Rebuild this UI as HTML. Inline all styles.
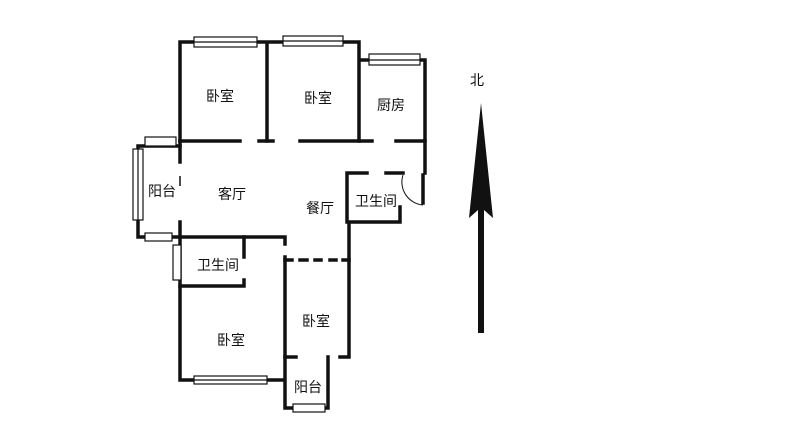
<!DOCTYPE html>
<html><head><meta charset="utf-8"><style>
body{margin:0;background:#fff}
svg text{font-family:"Liberation Sans","Noto Sans CJK SC",sans-serif;font-size:14px;fill:#111}
</style></head><body>
<svg width="811" height="434" viewBox="0 0 811 434" xmlns="http://www.w3.org/2000/svg">
<g stroke="#111" stroke-width="3.5" fill="none" stroke-linecap="square">
<!-- top -->
<path d="M180 42H359M359 60H425V173M180 42V141M267 42V141M359 42V141"/>
<path d="M180 141H240M259 141H273M300 141H372M396 141H425"/>
<path d="M180 141V162M180 222V380H285M285 257V408H328V357M180 237H285V244"/>
<path d="M244 237V257M244 280V286H180"/>
<path d="M285 357H296M340 357H349M349 222V357M347 173V222H400V207M347 173H367M386 173H403"/>
<path d="M423 175V203"/>
<path d="M285 260H292M300 260H307M315 260H321M330 260H336M343 260H349"/>
<path d="M138 146H180M138 146V237H180"/>
</g>
<path d="M180 176V186" stroke="#111" stroke-width="1.5"/>
<path d="M403 175A23 23 0 0 0 423 205" stroke="#111" stroke-width="1" fill="none"/>
<g fill="#fff" stroke="#111" stroke-width="1.2">
<rect x="194" y="37" width="63" height="10"/><line x1="194" y1="42" x2="257" y2="42"/>
<rect x="283" y="36" width="60" height="10"/><line x1="283" y1="41" x2="343" y2="41"/>
<rect x="369" y="54" width="51" height="11"/><line x1="369" y1="60" x2="420" y2="60"/>
<rect x="145" y="137" width="31" height="9"/>
<rect x="133" y="149" width="10" height="71"/><line x1="138" y1="149" x2="138" y2="220"/>
<rect x="145" y="233" width="27" height="8"/>
<rect x="173" y="245" width="8" height="35"/>
<rect x="194" y="376" width="73" height="8"/><line x1="194" y1="380" x2="267" y2="380"/>
<rect x="293" y="404" width="32" height="8"/>
</g>
<text x="206" y="101">卧室</text>
<text x="304" y="103">卧室</text>
<text x="377" y="110">厨房</text>
<text x="148" y="196">阳台</text>
<text x="218" y="199">客厅</text>
<text x="306" y="213">餐厅</text>
<text x="355" y="206">卫生间</text>
<text x="197" y="270">卫生间</text>
<text x="302" y="326">卧室</text>
<text x="217" y="345">卧室</text>
<text x="294" y="392">阳台</text>
<text x="470" y="85">北</text>
<path d="M481 103L493 218L484 210V333H478V210L469 218Z" fill="#111"/>
</svg>
</body></html>
